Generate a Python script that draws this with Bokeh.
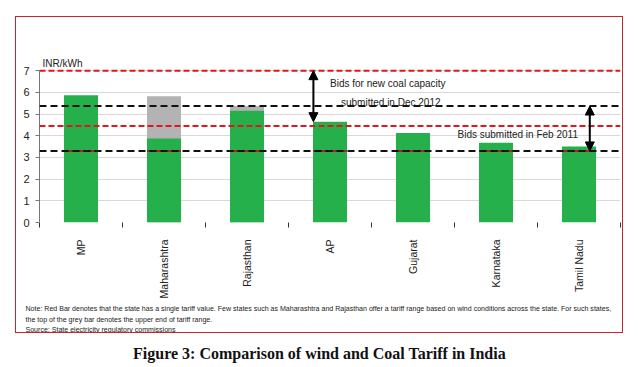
from bokeh.plotting import figure
from bokeh.layouts import column, row
from bokeh.models import Span, Label, Arrow, NormalHead, FixedTicker, Title, Spacer
from bokeh.embed import file_html
from bokeh.resources import INLINE

states = ["MP", "Maharashtra", "Rajasthan", "AP", "Gujarat", "Karnataka", "Tamil Nadu"]
wind_tariff = [5.87, 3.87, 5.15, 4.65, 4.13, 3.68, 3.5]
upper_tariff = [None, 5.82, 5.37, None, None, None, None]
coal_dec2012 = [7.0, 4.45]
coal_feb2011 = [5.37, 3.3]
y_ticks = [0, 1, 2, 3, 4, 5, 6, 7]

SANS = "Liberation Sans"
BAR_W = 0.41

p = figure(width=608, height=317, x_range=(0, len(states)), y_range=(0, 7.7),
           output_backend="svg", toolbar_location=None,
           min_border_left=23, min_border_right=4, min_border_top=38, min_border_bottom=111)
p.outline_line_color = None
p.background_fill_color = "white"
p.border_fill_color = "white"
p.styles = {"border": "1px solid #c0282e"}

xs = [i + 0.5 for i in range(len(states))]
gx = [x for x, u in zip(xs, upper_tariff) if u is not None]
gu = [u for u in upper_tariff if u is not None]
p.vbar(x=gx, top=gu, bottom=0, width=BAR_W, fill_color="#b3b3b3", line_color=None)
p.vbar(x=xs, top=wind_tariff, bottom=0, width=BAR_W, fill_color="#25b04b", line_color=None)
# faint red coal line showing through on the bars
p.segment(x0=[x - BAR_W / 2 for x in xs], x1=[x + BAR_W / 2 for x in xs],
          y0=[coal_feb2011[1]] * len(xs), y1=[coal_feb2011[1]] * len(xs),
          line_color="#b3201e", line_width=2)

for v in coal_dec2012:
    p.add_layout(Span(location=v, dimension="width", line_color="#e3161e", line_width=2, line_dash="6 3"))
for v in coal_feb2011:
    p.add_layout(Span(location=v, dimension="width", line_color="#111111", line_width=2, line_dash="7 4"))

# axes
p.xaxis.ticker = FixedTicker(ticks=xs, minor_ticks=list(range(len(states) + 1)))
p.xaxis.major_label_overrides = {x: s for x, s in zip(xs, states)}
p.xaxis.major_label_orientation = 3.14159265 / 2
p.xaxis.major_tick_line_color = None
p.xaxis.minor_tick_line_color = "#333333"
p.xaxis.minor_tick_out = 5
p.xaxis.minor_tick_in = 0
p.xaxis.axis_line_color = None
p.xaxis.major_label_standoff = 11
p.xaxis.major_label_text_font = SANS
p.xaxis.major_label_text_font_size = "10.5px"
p.xaxis.major_label_text_color = "#222222"

p.yaxis.ticker = FixedTicker(ticks=y_ticks)
p.yaxis.bounds = (0, 7)
p.yaxis.minor_tick_line_color = None
p.yaxis.major_tick_out = 4
p.yaxis.major_tick_in = 0
p.yaxis.axis_line_color = "#777777"
p.yaxis.major_tick_line_color = "#777777"
p.yaxis.major_label_text_font = SANS
p.yaxis.major_label_text_font_size = "11px"
p.yaxis.major_label_text_color = "#222222"
p.yaxis.major_label_standoff = 6

p.xgrid.grid_line_color = None
p.ygrid.grid_line_color = "#d9d9d9"
p.ygrid.ticker = FixedTicker(ticks=y_ticks[1:])

# unit label
p.add_layout(Label(x=0, y=7, x_offset=3, y_offset=2, text="INR/kWh", text_font=SANS,
                   text_font_size="10px", text_color="#222222"))

# arrows
head = dict(size=9, fill_color="black", line_color="black")
p.add_layout(Arrow(x_start=3.3, y_start=coal_dec2012[0], x_end=3.3, y_end=wind_tariff[3],
                   line_color="black", line_width=2,
                   start=NormalHead(**head), end=NormalHead(**head)))
p.add_layout(Arrow(x_start=6.63, y_start=coal_feb2011[0], x_end=6.63, y_end=coal_feb2011[1],
                   line_color="black", line_width=2,
                   start=NormalHead(**head), end=NormalHead(**head)))

p.add_layout(Label(x=3.5, y=6.41, x_offset=0, text="Bids for new coal capacity", text_font=SANS,
                   text_font_size="10px", text_color="#222222", text_baseline="middle"))
p.add_layout(Label(x=3.5, y=5.54, x_offset=11, text="submitted in Dec 2012", text_font=SANS,
                   text_font_size="10px", text_color="#222222", text_baseline="middle"))
p.add_layout(Label(x=5.0, y=4.07, x_offset=3, text="Bids submitted in Feb 2011", text_font=SANS,
                   text_font_size="10px", text_color="#222222", text_baseline="middle"))

notes = ("Note: Red Bar denotes that the state has a single tariff value. Few states such as Maharashtra and Rajasthan offer a tariff range based on wind conditions across the state. For such states,\n"
         "the top of the grey bar denotes the upper end of tariff range.\n"
         "Source:  State electricity regulatory commissions")
p.add_layout(Title(text=notes, align="left", offset=-14, text_font=SANS, text_font_size="7.05px",
                   text_font_style="normal", text_color="#222222", text_line_height=1.55,
                   standoff=2), "below")

cap = figure(width=638, height=30, x_range=(0, 1), y_range=(0, 1),
             output_backend="svg", toolbar_location=None, min_border=0)
cap.axis.visible = False
cap.grid.visible = False
cap.outline_line_color = None
cap.add_layout(Label(x=0.5, y=0.5, y_offset=-5, text="Figure 3: Comparison of wind and Coal Tariff in India",
                     text_font="Liberation Serif", text_font_style="bold", text_font_size="16px",
                     text_color="#111111", text_align="center", text_baseline="middle"))

layout = column(Spacer(height=16), row(Spacer(width=15), p), cap, spacing=0)
open("out.html", "w").write(file_html(layout, INLINE))
